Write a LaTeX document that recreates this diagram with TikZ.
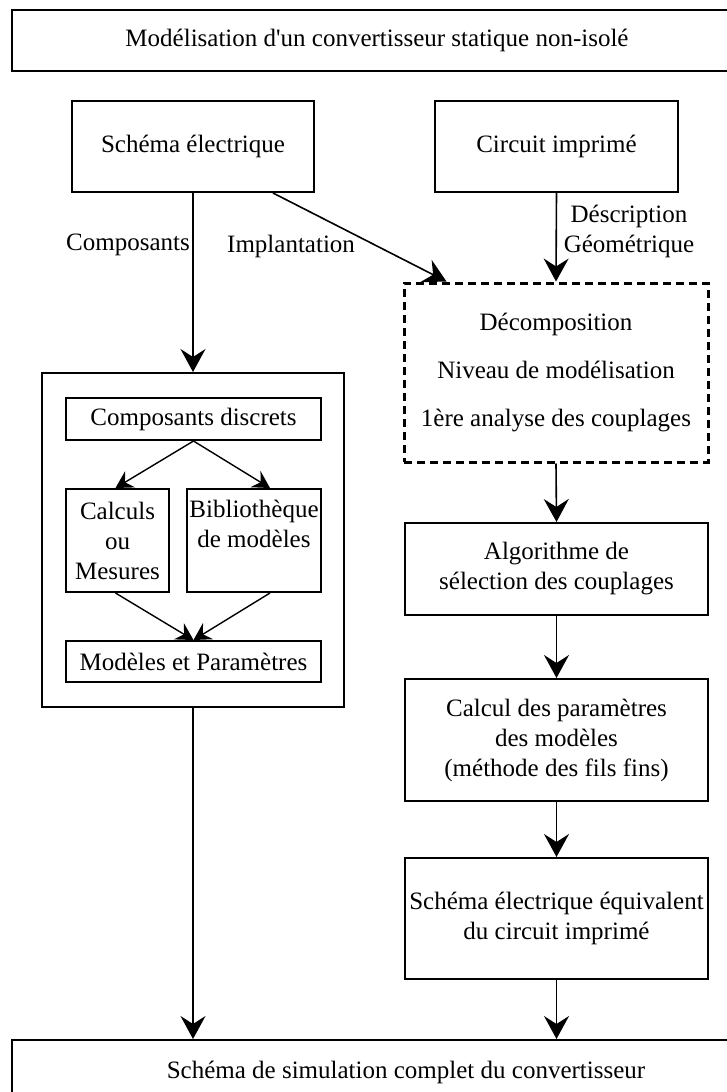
\documentclass[tikz,border=0pt]{standalone}
\usepackage{fontspec}
\setmainfont{Liberation Serif}[Ligatures=TeXOff]
\usetikzlibrary{arrows.meta,calc}
\begin{document}
\begin{tikzpicture}[x=1pt,y=-1pt,
  every node/.style={font=\fontsize{25}{30}\selectfont, inner sep=0pt},
  box/.style={draw, line width=2pt, rectangle, align=center},
  dbox/.style={draw, line width=3pt, dash pattern=on 8pt off 5pt, rectangle, align=center},
  arr/.style={line width=1.6pt, -{Stealth[length=23pt,width=25pt,inset=8pt]}},
  sarr/.style={line width=1.4pt, -{Stealth[length=17pt,width=19pt,inset=6pt]}}]
\useasboundingbox (0,0) rectangle (726,1092);
% boxes
\node[box, minimum width=730pt, minimum height=61pt] (title) at (377,40.5) {Modélisation d'un convertisseur statique non-isolé};
\node[box, minimum width=788pt, minimum height=64pt] (final) at (406,1072) {Schéma de simulation complet du convertisseur};
\node[box, minimum width=242pt, minimum height=91pt] (schema) at (193,146.5) {Schéma électrique};
\node[box, minimum width=243pt, minimum height=91pt] (circuit) at (556.5,146.5) {Circuit imprimé};
\node[dbox, minimum width=304pt, minimum height=179pt, font=\fontsize{25}{48}\selectfont] (dec) at (556,372.5) {Décomposition\\Niveau de modélisation\\1ère analyse des couplages};
\node[box, minimum width=303pt, minimum height=92pt] (algo) at (556.5,569) {Algorithme de\\sélection des couplages};
\node[box, minimum width=303pt, minimum height=122pt] (calcul) at (556.5,740) {Calcul des paramètres\\des modèles\\(méthode des fils fins)};
\node[box, minimum width=303pt, minimum height=121pt] (equiv) at (556.5,918.5) {Schéma électrique équivalent\\du circuit imprimé};
\node[box, minimum width=302pt, minimum height=334pt] (outer) at (193,540) {};
\node[box, minimum width=255pt, minimum height=42pt] (discrets) at (193.5,419) {Composants discrets};
\node[box, minimum width=103pt, minimum height=103pt] (calculs) at (117.5,540.5) {Calculs\\ou\\Mesures};
\node[box, minimum width=134pt, minimum height=103pt] (biblio) at (254,540.5) {};
\node[anchor=base, align=center] (bibliotxt) at (254,547) {Bibliothèque\\de modèles};
\node[box, minimum width=255pt, minimum height=41pt] (modeles) at (193.5,661.5) {Modèles et Paramètres};
% labels
\node[anchor=base east] (lcomp) at (190,250) {Composants};
\node[anchor=base west] (limpl) at (227,252) {Implantation};
\node[align=center] (ldesc) at (629,231) {Déscription\\Géométrique};
% arrows
\draw[arr] (schema.south) -- (outer.north);
\draw[arr] ([xshift=-42pt]schema.south east) -- ([xshift=44pt]dec.north west);
\draw[arr] (circuit.south) -- (dec.north);
\draw[arr] (dec.south) -- (algo.north);
\draw[arr] (algo.south) -- (calcul.north);
\draw[arr] (calcul.south) -- (equiv.north);
\draw[arr] (equiv.south) -- (equiv.south |- final.north);
\draw[arr] (outer.south) -- (outer.south |- final.north);
\draw[sarr] (discrets.south) -- ([xshift=-2pt]calculs.north);
\draw[sarr] (discrets.south) -- ([xshift=16pt]biblio.north);
\draw[sarr] ([xshift=-2pt]calculs.south) -- (modeles.north);
\draw[sarr] ([xshift=16pt]biblio.south) -- (modeles.north);
\end{tikzpicture}
\end{document}
